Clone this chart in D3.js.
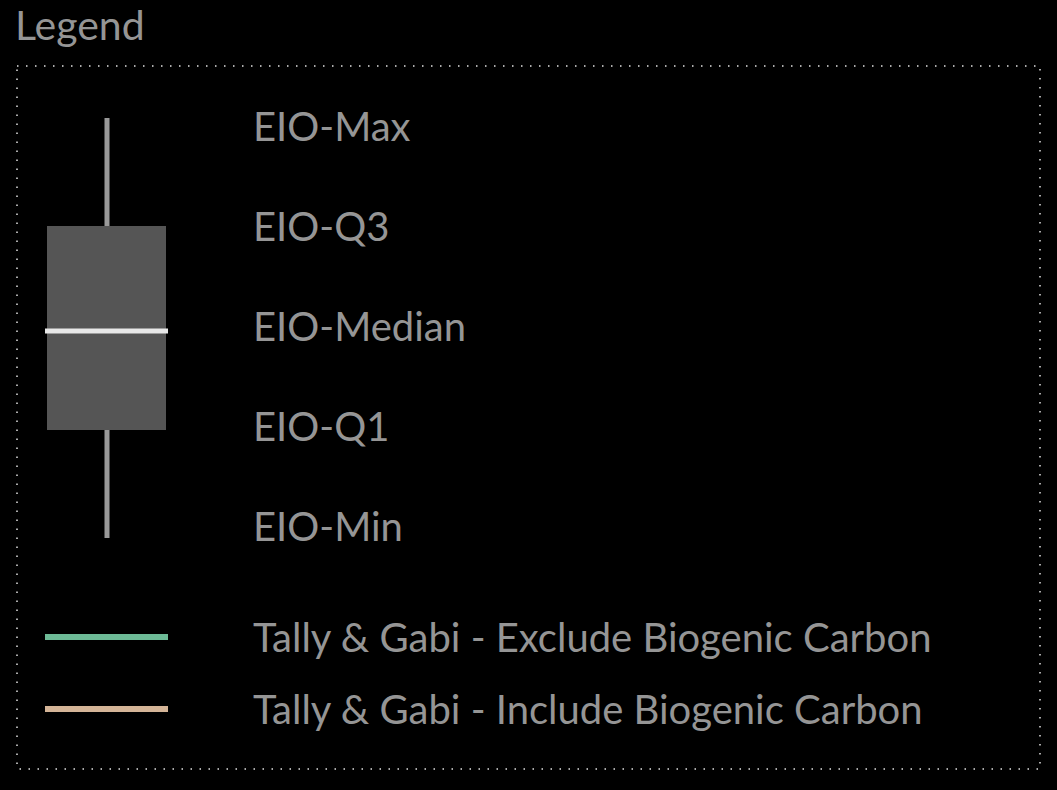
<!DOCTYPE html>
<html><head><meta charset="utf-8">
<script src="https://cdn.jsdelivr.net/npm/d3@7"></script>
<style>body{margin:0;background:#000}svg{display:block}</style>
</head><body>
<svg id="chart" width="1057" height="790"></svg>
<script>
const title = "Legend";
const boxLabels = ["EIO-Max","EIO-Q3","EIO-Median","EIO-Q1","EIO-Min"];
const lineLabels = ["Tally & Gabi - Exclude Biogenic Carbon","Tally & Gabi - Include Biogenic Carbon"];
const lineColors = ["#6dba96","#d4b497"];

const svg = d3.select("#chart");
const font = "Lato, 'Open Sans', sans-serif";
const txt = "#959595";

svg.append("text").attr("x",15).attr("y",40).text(title)
  .attr("fill",txt).attr("font-family",font).attr("font-size",41);

svg.append("rect").attr("x",17).attr("y",66).attr("width",1023).attr("height",703)
  .attr("fill","none").attr("stroke","#aaa").attr("stroke-width",2)
  .attr("stroke-dasharray","1.5 7.5");

// vertical scale: max at top, min at bottom
const y = d3.scalePoint().domain(boxLabels).range([118,538]);
const labelY = d3.scalePoint().domain(boxLabels).range([141,541]);

const g = svg.append("g");
g.append("line").attr("x1",107).attr("x2",107)
  .attr("y1",y("EIO-Max")).attr("y2",y("EIO-Min"))
  .attr("stroke","#999").attr("stroke-width",5);
g.append("rect").attr("x",47).attr("width",119)
  .attr("y",y("EIO-Q3")+3).attr("height",y("EIO-Q1")-y("EIO-Q3")-6)
  .attr("fill","#555");
g.append("line").attr("x1",45).attr("x2",168)
  .attr("y1",y("EIO-Median")+3).attr("y2",y("EIO-Median")+3)
  .attr("stroke","#e8e8e8").attr("stroke-width",5);

g.selectAll("text.box").data(boxLabels).join("text")
  .attr("x",253).attr("y",d=>labelY(d)).text(d=>d)
  .attr("fill",txt).attr("font-family",font).attr("font-size",40);

const ly = d3.scalePoint().domain(lineLabels).range([637,709]);
const lg = svg.append("g");
lg.selectAll("line").data(lineLabels).join("line")
  .attr("x1",45).attr("x2",168).attr("y1",d=>ly(d)).attr("y2",d=>ly(d))
  .attr("stroke",(d,i)=>lineColors[i]).attr("stroke-width",6);
lg.selectAll("text").data(lineLabels).join("text")
  .attr("x",253).attr("y",d=>ly(d)+15).text(d=>d)
  .attr("fill",txt).attr("font-family",font).attr("font-size",40);
</script>
</body></html>
